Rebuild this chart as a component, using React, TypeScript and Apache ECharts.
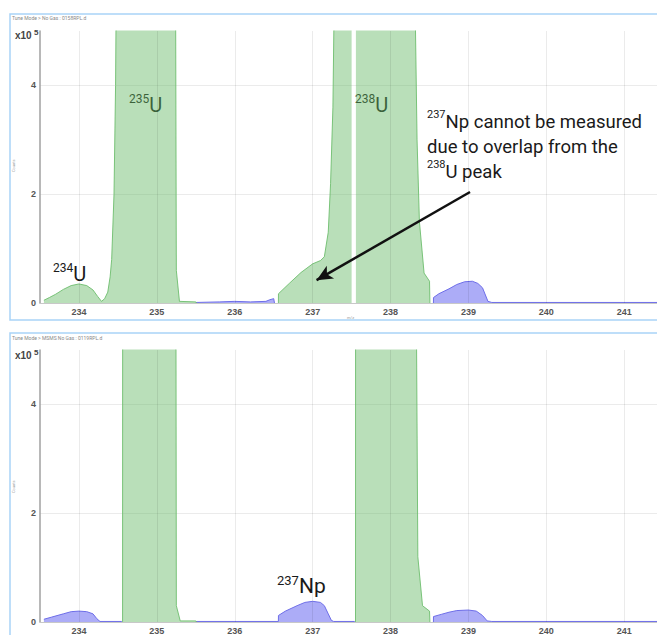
import React, { useEffect, useRef } from "react";
import * as echarts from "echarts";

// ---------- data (counts in units of 1e5) ----------
const xTicks = [234, 235, 236, 237, 238, 239, 240, 241];
const yTicks = [0, 2, 4];

// Top panel: No Gas mode
const topGreen: (number | null)[][] = [
  [233.55, 0.05], [233.62, 0.1], [233.7, 0.16], [233.8, 0.25], [233.9, 0.32], [234.0, 0.35],
  [234.1, 0.32], [234.18, 0.24], [234.24, 0.12], [234.29, 0.03], [234.33, 0.08], [234.37, 0.2],
  [234.4, 0.48], [234.42, 0.8], [234.45, 2.0], [234.47, 4.0], [234.48, 6],
  [235.24, 6], [235.25, 0.6], [235.29, 0.03], [235.5, 0.02], [235.51, 0],
  [236.0, null],
  [236.56, 0], [236.561, 0.17], [236.7, 0.36], [236.85, 0.56], [237.0, 0.72], [237.1, 0.78],
  [237.15, 0.85], [237.2, 1.3], [237.23, 2.2], [237.26, 3.6], [237.28, 6], [237.5, 6],
  [237.52, null],
  [237.555, 6], [238.31, 6], [238.34, 3.0], [238.37, 1.5], [238.43, 0.55], [238.5, 0.4], [238.505, 0],
];
const topBlue: (number | null)[][] = [
  [235.5, 0.01], [235.8, 0.02], [236.0, 0.03], [236.2, 0.02], [236.4, 0.03], [236.45, 0.06],
  [236.5, 0.08], [236.51, 0],
  [237.5, null],
  [238.55, 0], [238.551, 0.1], [238.62, 0.17], [238.75, 0.26], [238.85, 0.34], [238.95, 0.39],
  [239.05, 0.4], [239.12, 0.36], [239.18, 0.28], [239.25, 0.03], [239.3, 0.01], [241.42, 0.01],
];

// Bottom panel: MSMS mode
const botGreen: (number | null)[][] = [
  [234.56, 0], [234.561, 6], [235.245, 6], [235.25, 0.3], [235.3, 0.02], [235.5, 0.02], [235.51, 0],
  [236.0, null],
  [237.55, 0], [237.551, 6], [238.33, 6], [238.35, 1.2], [238.41, 0.3], [238.5, 0.2], [238.505, 0],
];
const botBlue: (number | null)[][] = [
  [233.55, 0.05], [233.65, 0.09], [233.8, 0.15], [233.9, 0.19], [234.0, 0.2], [234.1, 0.19],
  [234.18, 0.15], [234.23, 0.06], [234.27, 0.01], [234.55, 0.01],
  [235.0, null],
  [235.5, 0.01], [236.56, 0.01], [236.561, 0.12], [236.65, 0.2], [236.8, 0.3], [236.9, 0.36],
  [237.0, 0.38], [237.1, 0.36], [237.15, 0.3], [237.2, 0.15], [237.24, 0.03], [237.27, 0.01],
  [237.54, 0.01],
  [238.0, null],
  [238.55, 0], [238.551, 0.1], [238.65, 0.14], [238.75, 0.18], [238.85, 0.21], [239.0, 0.22],
  [239.1, 0.2], [239.18, 0.12], [239.24, 0.02], [239.3, 0.01], [241.42, 0.01],
];

// Arrow from annotation to the 237 shoulder
const arrowFrom = [239.02, 2.04];
const arrowTo = [237.05, 0.42];

const GREEN_FILL = "rgba(100,185,100,0.45)";
const GREEN_LINE = "rgba(110,190,110,0.9)";
const BLUE_FILL = "rgba(90,90,240,0.5)";
const BLUE_LINE = "rgb(110,110,232)";
const FONT = "Roboto, 'Liberation Sans', sans-serif";
const AXFONT = "'Liberation Sans', Arial, sans-serif";

function supText(sup: string, main: string, x: number, y: number, size: number) {
  return {
    type: "text",
    x,
    y,
    style: {
      text: `{s|${sup}}{m|${main}}`,
      rich: {
        s: { fontSize: Math.round(size * 0.6), fontFamily: FONT, fill: "#1a1a1a", verticalAlign: "top", lineHeight: Math.round(size * 0.8) },
        m: { fontSize: size, fontFamily: FONT, fill: "#1a1a1a", lineHeight: size * 1.15 },
      },
      verticalAlign: "top",
      align: "left",
    },
    silent: true,
  };
}

export default function App() {
  const ref = useRef<HTMLDivElement>(null);
  useEffect(() => {
    if (!ref.current) return;
    const chart = echarts.init(ref.current, undefined, { renderer: "svg" });

    const xAxisCommon = (gridIndex: number) => ({
      gridIndex,
      type: "value",
      min: 233.5,
      max: 241.42,
      axisLine: { show: true, onZero: false, lineStyle: { color: "#c8c8c8", width: 1 } },
      axisTick: { show: false, customValues: xTicks },
      axisLabel: {
        color: "#555",
        fontSize: 9,
        fontWeight: "bold",
        fontFamily: AXFONT,
        margin: 4,
        customValues: xTicks,
      },
      splitLine: { show: false },
    });
    const yAxisCommon = (gridIndex: number) => ({
      gridIndex,
      type: "value",
      min: 0,
      max: 5,
      interval: 2,
      axisLine: { show: true, lineStyle: { color: "#a0a0a0", width: 1.5 } },
      axisTick: { show: false },
      axisLabel: {
        color: "#555",
        fontSize: 9,
        fontWeight: "bold",
        fontFamily: AXFONT,
        margin: 4,
        showMaxLabel: false,
        formatter: (v: number) => (yTicks.indexOf(v) >= 0 ? String(v) : ""),
      },
      splitLine: { show: true, showMinLine: false, showMaxLine: false, lineStyle: { color: "#ebebeb", width: 1 } },
    });

    const vGrid = {
      silent: true,
      symbol: ["none", "none"],
      label: { show: false },
      lineStyle: { color: "rgba(0,0,0,0.08)", width: 1, type: "solid" },
      data: xTicks.map((v) => ({ xAxis: v })),
    };

    const areaSeries = (data: any, idx: number, fill: string, line: string, extra: any = {}) => ({
      type: "line",
      xAxisIndex: idx,
      yAxisIndex: idx,
      data,
      showSymbol: false,
      symbol: "none",
      connectNulls: false,
      clip: true,
      silent: true,
      lineStyle: { color: line, width: 1 },
      areaStyle: { color: fill, opacity: 1 },
      ...extra,
    });

    const graphic: any[] = [
      { type: "rect", shape: { x: 10, y: 14, width: 660, height: 306 }, style: { fill: "none", stroke: "#a9d3f7", lineWidth: 1.5 }, silent: true },
      { type: "rect", shape: { x: 10, y: 333, width: 660, height: 320 }, style: { fill: "none", stroke: "#a9d3f7", lineWidth: 1.5 }, silent: true },
      { type: "text", x: 12, y: 15, style: { text: "Tune Mode > No Gas : 0158RPL.d", fontSize: 5, fill: "#888", fontFamily: FONT } },
      { type: "text", x: 12, y: 335, style: { text: "Tune Mode > MSMS No Gas : 0119RPL.d", fontSize: 5, fill: "#888", fontFamily: FONT } },
      { type: "text", x: 15, y: 30, style: { text: "x10", fontSize: 10, fontWeight: "bold", fill: "#444", fontFamily: AXFONT } },
      { type: "text", x: 34, y: 28, style: { text: "5", fontSize: 8, fontWeight: "bold", fill: "#444", fontFamily: AXFONT } },
      { type: "text", x: 15, y: 350, style: { text: "x10", fontSize: 10, fontWeight: "bold", fill: "#444", fontFamily: AXFONT } },
      { type: "text", x: 34, y: 348, style: { text: "5", fontSize: 8, fontWeight: "bold", fill: "#444", fontFamily: AXFONT } },
      { type: "text", x: 11, y: 172, rotation: Math.PI / 2, style: { text: "Counts", fontSize: 4, fill: "#999", fontFamily: FONT } },
      { type: "text", x: 11, y: 493, rotation: Math.PI / 2, style: { text: "Counts", fontSize: 4, fill: "#999", fontFamily: FONT } },
      { type: "text", x: 347, y: 315, style: { text: "m/z", fontSize: 4, fill: "#999", fontFamily: FONT } },
      supText("235", "U", 129, 93, 20),
      supText("238", "U", 355, 93, 20),
      supText("234", "U", 53, 262, 20),
      supText("237", "Np", 277, 574, 21),
      {
        type: "text",
        x: 427,
        y: 109,
        style: {
          text: "{s|237}{m|Np cannot be measured}\n{m|due to overlap from the}\n{s|238}{m|U peak}",
          rich: {
            s: { fontSize: 11, fontFamily: FONT, fill: "#1a1a1a", verticalAlign: "top", lineHeight: 16 },
            m: { fontSize: 18.5, fontFamily: FONT, fill: "#1a1a1a", lineHeight: 25 },
          },
          verticalAlign: "top",
          align: "left",
        },
        silent: true,
      },
    ];

    chart.setOption({
      animation: false,
      backgroundColor: "#ffffff",
      grid: [
        { left: 40, right: 0, top: 31, height: 272, containLabel: false },
        { left: 40, right: 0, top: 350, height: 274, containLabel: false },
      ],
      xAxis: [xAxisCommon(0), xAxisCommon(1)],
      yAxis: [yAxisCommon(0), yAxisCommon(1)],
      series: [
        areaSeries(topBlue, 0, BLUE_FILL, BLUE_LINE, { markLine: vGrid, z: 2 }),
        areaSeries(topGreen, 0, GREEN_FILL, GREEN_LINE, {
          z: 3,
          markLine: {
            silent: true,
            symbol: ["none", "arrow"],
            symbolSize: [11, 16],
            label: { show: false },
            lineStyle: { color: "#111", width: 2.5, type: "solid" },
            data: [[{ coord: arrowFrom }, { coord: arrowTo }]],
          },
        }),
        areaSeries(botBlue, 1, BLUE_FILL, BLUE_LINE, { markLine: vGrid, z: 2 }),
        areaSeries(botGreen, 1, GREEN_FILL, GREEN_LINE, { z: 3 }),
      ],
      graphic,
    });
    return () => chart.dispose();
  }, []);
  return <div ref={ref} style={{ position: "fixed", left: 0, top: 0, width: 657, height: 635 }} />;
}
